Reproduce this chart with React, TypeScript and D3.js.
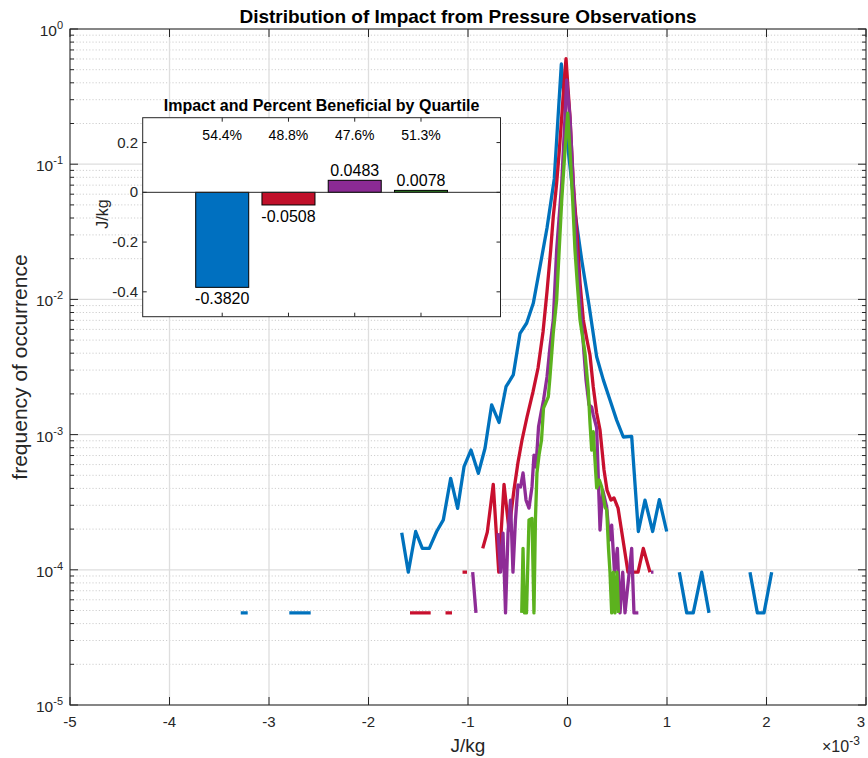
import React from 'react';
import * as d3 from 'd3';

// main axes ticks
const xTicks = [-5, -4, -3, -2, -1, 0, 1, 2, 3];
const yDecades = [-5, -4, -3, -2, -1, 0];

// [J/kg x 1e-3, frequency]; a 0 frequency is an empty bin (gap on the log axis)
const q1Series: [number, number][] = [
  [-3.284, 4.8e-5], [-3.214, 4.8e-5], [-3.0, 0],
  [-2.796, 4.8e-5], [-2.724, 4.8e-5], [-2.652, 4.8e-5], [-2.581, 4.8e-5], [-2.1, 0],
  [-1.666, 1.88e-4], [-1.6, 9.6e-5], [-1.526, 1.92e-4], [-1.459, 1.44e-4], [-1.389, 1.44e-4],
  [-1.315, 1.92e-4], [-1.248, 2.34e-4], [-1.174, 4.75e-4], [-1.104, 2.85e-4], [-1.04, 5.79e-4],
  [-0.97, 7.69e-4], [-0.896, 5.17e-4], [-0.829, 7.92e-4], [-0.762, 1.66e-3], [-0.688, 1.23e-3],
  [-0.618, 2.26e-3], [-0.545, 2.76e-3], [-0.477, 5.61e-3], [-0.41, 6.69e-3], [-0.344, 9.35e-3],
  [-0.276, 1.75e-2], [-0.206, 3.37e-2], [-0.133, 7.78e-2], [-0.062, 0.551],
  [0.007, 0.127], [0.075, 4.43e-2], [0.146, 1.89e-2], [0.216, 9.09e-3], [0.293, 3.77e-3],
  [0.36, 2.54e-3], [0.427, 1.8e-3], [0.494, 1.28e-3], [0.561, 9.6e-4], [0.645, 9.7e-4],
  [0.712, 1.92e-4], [0.779, 3.28e-4], [0.856, 1.92e-4], [0.923, 3.3e-4], [0.997, 1.92e-4], [1.06, 0],
  [1.124, 9.6e-5], [1.198, 4.8e-5], [1.264, 4.8e-5], [1.349, 9.6e-5], [1.422, 4.8e-5], [1.6, 0],
  [1.834, 9.6e-5], [1.908, 4.8e-5], [1.975, 4.8e-5], [2.052, 9.6e-5],
];

const q2Series: [number, number][] = [
  [-1.583, 4.8e-5], [-1.514, 4.8e-5], [-1.444, 4.8e-5], [-1.375, 4.8e-5], [-1.3, 0],
  [-1.226, 4.8e-5], [-1.161, 4.8e-5], [-1.1, 0],
  [-1.055, 9.6e-5], [-1.01, 9.6e-5], [-0.93, 0],
  [-0.852, 1.44e-4], [-0.806, 1.9e-4], [-0.746, 4.29e-4], [-0.691, 9.6e-5], [-0.638, 4.29e-4],
  [-0.588, 1.97e-4], [-0.538, 3.89e-4], [-0.497, 6.27e-4], [-0.457, 9.12e-4], [-0.407, 1.35e-3],
  [-0.347, 2.07e-3], [-0.296, 3.11e-3], [-0.246, 5.74e-3], [-0.206, 1.14e-2], [-0.169, 2.32e-2],
  [-0.143, 4.09e-2], [-0.109, 7.22e-2], [-0.082, 0.127], [-0.058, 0.224], [-0.035, 0.397], [-0.015, 0.603],
  [0.025, 0.223], [0.058, 7.26e-2], [0.095, 3.1e-2], [0.126, 1.32e-2], [0.159, 7.04e-3],
  [0.196, 5.01e-3], [0.226, 3.88e-3], [0.259, 2.25e-3], [0.293, 1.45e-3], [0.327, 1.08e-3],
  [0.367, 5.47e-4], [0.397, 3.89e-4], [0.437, 3.28e-4], [0.467, 3.4e-4], [0.508, 2.86e-4],
  [0.558, 1.66e-4], [0.608, 9.6e-5], [0.658, 9.6e-5], [0.709, 9.6e-5], [0.762, 1.44e-4], [0.829, 9.6e-5],
];

const q3Series: [number, number][] = [
  [-0.953, 9.6e-5], [-0.92, 4.8e-5], [-0.88, 0],
  [-0.698, 1.87e-4], [-0.673, 9.6e-5], [-0.648, 1.87e-4], [-0.623, 4.8e-5], [-0.598, 1.87e-4],
  [-0.573, 3.28e-4], [-0.548, 9.6e-5], [-0.523, 2.34e-4], [-0.497, 4.24e-4], [-0.472, 4.1e-4],
  [-0.447, 5.2e-4], [-0.417, 3.28e-4], [-0.387, 2.86e-4], [-0.357, 4.1e-4], [-0.337, 7.06e-4],
  [-0.317, 5.76e-4], [-0.291, 1.14e-3], [-0.266, 1.45e-3], [-0.241, 1.8e-3], [-0.206, 2.67e-3],
  [-0.176, 4.45e-3], [-0.143, 7.04e-3], [-0.109, 2.32e-2], [-0.058, 7.26e-2], [-0.025, 0.223], [-0.008, 0.42],
  [0.025, 0.223], [0.058, 7.26e-2], [0.092, 2.32e-2], [0.126, 9.9e-3], [0.156, 5.01e-3],
  [0.186, 2.54e-3], [0.216, 1.66e-3], [0.243, 1.6e-3], [0.259, 1.4e-3], [0.293, 1.12e-3],
  [0.327, 1.97e-4], [0.354, 3.89e-4], [0.394, 2.91e-4], [0.422, 1.66e-4], [0.444, 2.14e-4],
  [0.472, 9.6e-5], [0.501, 1.44e-4], [0.528, 4.8e-5], [0.555, 9.6e-5], [0.578, 4.8e-5],
  [0.645, 1.44e-4], [0.668, 4.8e-5], [0.712, 4.8e-5], [0.78, 0], [0.839, 9.6e-5], [0.864, 9.6e-5],
];

const q4Series: [number, number][] = [
  [-0.46, 4.8e-5], [-0.447, 1.44e-4], [-0.432, 4.8e-5], [-0.412, 4.8e-5], [-0.387, 2.34e-4],
  [-0.357, 2.4e-4], [-0.337, 4.8e-5], [-0.322, 2.4e-4], [-0.307, 5.2e-4], [-0.286, 7.06e-4],
  [-0.261, 9.12e-4], [-0.241, 1.57e-3], [-0.193, 1.9e-3], [-0.176, 2.67e-3], [-0.143, 5.64e-3],
  [-0.109, 9.9e-3], [-0.092, 1.75e-2], [-0.058, 5.43e-2], [-0.025, 0.127], [0.002, 0.239],
  [0.025, 0.127], [0.052, 5.43e-2], [0.075, 2.32e-2], [0.098, 1.32e-2], [0.126, 7.04e-3],
  [0.176, 4.01e-3], [0.209, 2.14e-3], [0.226, 1.22e-3], [0.243, 7.69e-4], [0.259, 1.05e-3],
  [0.276, 6.49e-4], [0.293, 4.03e-4], [0.32, 4.62e-4], [0.344, 4.1e-4], [0.377, 2.91e-4],
  [0.394, 2.77e-4], [0.412, 1.44e-4], [0.427, 9.6e-5], [0.444, 4.8e-5], [0.46, 9.6e-5],
  [0.477, 4.8e-5], [0.497, 9.6e-5], [0.513, 4.8e-5],
];

// inset: impact and percent beneficial by quartile
const quartiles = [1, 2, 3, 4];
const impact = [-0.382, -0.0508, 0.0483, 0.0078];
const impactText = ['-0.3820', '-0.0508', '0.0483', '0.0078'];
const beneficial = ['54.4%', '48.8%', '47.6%', '51.3%'];
const insetYTicks = [-0.4, -0.2, 0, 0.2];

const lineColors = ['#0072BD', '#C8102E', '#8E2C96', '#5CB21E'];
const barColors = ['#0070C0', '#C0102A', '#8B2A94', '#2E8B22'];

const FONT = '"Liberation Sans", Arial, Helvetica, sans-serif';
const AX = '#262626';

export default function App() {
  const W = 868;
  const H = 758;
  const m = { left: 70, right: 866, top: 29, bottom: 705 };

  const x = d3.scaleLinear().domain([-5, 3]).range([m.left, m.right]);
  const y = d3.scaleLog().domain([1e-5, 1]).range([m.bottom, m.top]);

  const line = d3.line<[number, number]>()
    .defined(d => d[1] > 0)
    .x(d => x(d[0]))
    .y(d => y(d[1]));

  const minor: number[] = [];
  yDecades.slice(0, -1).forEach(e => {
    for (let k = 2; k <= 9; k++) minor.push(k * Math.pow(10, e));
  });

  // inset scales
  const ix = d3.scaleLinear().domain([-0.2, 5.2]).range([142.7, 500.5]);
  const iy = d3.scaleLinear().domain([-0.5, 0.3]).range([316.7, 117.7]);
  const barW = ix(0.8) - ix(0);

  const series = [q1Series, q2Series, q3Series, q4Series];

  return (
    <svg width={W} height={H} style={{ position: 'absolute', left: 0, top: 0, background: '#fff' }}
      fontFamily={FONT}>
      <rect x={0} y={0} width={W} height={H} fill="#fff" />

      {/* grid */}
      {minor.map((v, i) => (
        <line key={'mg' + i} x1={m.left} x2={m.right} y1={y(v)} y2={y(v)}
          stroke="#cfcfcf" strokeWidth={1} strokeDasharray="1.2,2" />
      ))}
      {yDecades.map(e => (
        <line key={'yg' + e} x1={m.left} x2={m.right} y1={y(Math.pow(10, e))} y2={y(Math.pow(10, e))}
          stroke="#dedede" strokeWidth={1.3} />
      ))}
      {xTicks.map(t => (
        <line key={'xg' + t} x1={x(t)} x2={x(t)} y1={m.top} y2={m.bottom} stroke="#dedede" strokeWidth={1.3} />
      ))}

      {/* series */}
      {series.map((s, i) => (
        <path key={'s' + i} d={line(s) || ''} fill="none" stroke={lineColors[i]} strokeWidth={3.3}
          strokeLinejoin="round" />
      ))}

      {/* axes box and ticks */}
      <rect x={m.left} y={m.top} width={m.right - m.left} height={m.bottom - m.top}
        fill="none" stroke={AX} strokeWidth={1} />
      {xTicks.map(t => (
        <g key={'xt' + t}>
          <line x1={x(t)} x2={x(t)} y1={m.bottom} y2={m.bottom - 8} stroke={AX} />
          <line x1={x(t)} x2={x(t)} y1={m.top} y2={m.top + 8} stroke={AX} />
          <text x={Math.min(x(t), 861)} y={727} textAnchor="middle" fontSize={15} fill={AX}>{t}</text>
        </g>
      ))}
      {yDecades.map(e => (
        <g key={'yt' + e}>
          <line x1={m.left} x2={m.left + 8} y1={y(Math.pow(10, e))} y2={y(Math.pow(10, e))} stroke={AX} />
          <line x1={m.right} x2={m.right - 8} y1={y(Math.pow(10, e))} y2={y(Math.pow(10, e))} stroke={AX} />
          <text x={63} y={y(Math.pow(10, e)) + 7} textAnchor="end" fontSize={15.5} fill={AX}>
            10<tspan dy={-7} fontSize={11}>{e}</tspan>
          </text>
        </g>
      ))}
      {minor.map((v, i) => (
        <g key={'mt' + i}>
          <line x1={m.left} x2={m.left + 4} y1={y(v)} y2={y(v)} stroke={AX} />
          <line x1={m.right} x2={m.right - 4} y1={y(v)} y2={y(v)} stroke={AX} />
        </g>
      ))}

      {/* titles and labels */}
      <text x={468} y={23} textAnchor="middle" fontSize={19} fontWeight="bold" fill="#000">
        Distribution of Impact from Pressure Observations
      </text>
      <text x={468} y={752} textAnchor="middle" fontSize={19} fill={AX}>J/kg</text>
      <text transform="translate(27,367) rotate(-90)" textAnchor="middle" fontSize={21} fill={AX}>
        frequency of occurrence
      </text>
      <text x={822} y={752} fontSize={16} fill={AX}>
        ×10<tspan dy={-7} fontSize={12}>-3</tspan>
      </text>

      {/* inset */}
      <rect x={ix(-0.2)} y={iy(0.3)} width={ix(5.2) - ix(-0.2)} height={iy(-0.5) - iy(0.3)} fill="#fff" />
      <text x={(ix(-0.2) + ix(5.2)) / 2} y={111} textAnchor="middle" fontSize={16} fontWeight="bold" fill="#000">
        Impact and Percent Beneficial by Quartile
      </text>
      {quartiles.map((q, i) => {
        const v = impact[i];
        const top = iy(Math.max(0, v));
        const bot = iy(Math.min(0, v));
        return (
          <g key={'b' + q}>
            <rect x={ix(q) - barW / 2} y={top} width={barW} height={Math.max(bot - top, 0.5)}
              fill={barColors[i]} stroke="#000" strokeWidth={1} />
            <text x={ix(q)} y={v < 0 ? bot + 17 : top - 4} textAnchor="middle" fontSize={16} fill="#000">
              {impactText[i]}
            </text>
            <text x={ix(q)} y={140} textAnchor="middle" fontSize={14} fill="#000">{beneficial[i]}</text>
            <line x1={ix(q)} x2={ix(q)} y1={iy(0.3)} y2={iy(0.3) + 4} stroke={AX} />
            <line x1={ix(q)} x2={ix(q)} y1={iy(-0.5)} y2={iy(-0.5) - 4} stroke={AX} />
          </g>
        );
      })}
      <line x1={ix(-0.2)} x2={ix(5.2)} y1={iy(0)} y2={iy(0)} stroke={AX} strokeWidth={1} />
      <rect x={ix(-0.2)} y={iy(0.3)} width={ix(5.2) - ix(-0.2)} height={iy(-0.5) - iy(0.3)}
        fill="none" stroke={AX} strokeWidth={1} />
      {insetYTicks.map(t => (
        <g key={'it' + t}>
          <line x1={ix(-0.2)} x2={ix(-0.2) + 4} y1={iy(t)} y2={iy(t)} stroke={AX} />
          <line x1={ix(5.2)} x2={ix(5.2) - 4} y1={iy(t)} y2={iy(t)} stroke={AX} />
          <text x={138} y={iy(t) + 5} textAnchor="end" fontSize={15} fill={AX}>{t}</text>
        </g>
      ))}
      <text transform="translate(108,214) rotate(-90)" textAnchor="middle" fontSize={16} fill={AX}>J/kg</text>
    </svg>
  );
}
